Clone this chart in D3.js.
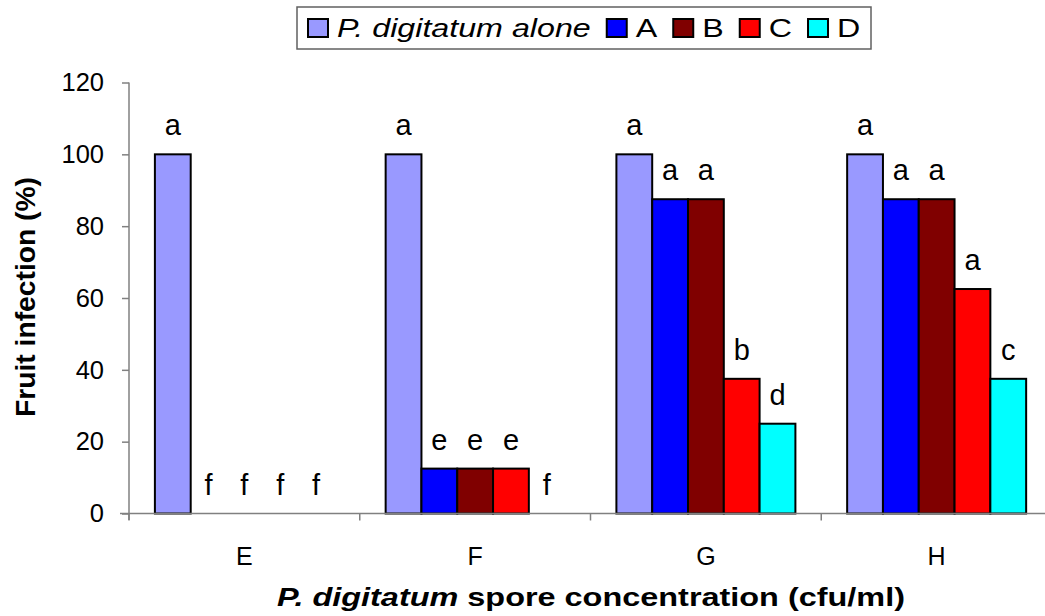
<!DOCTYPE html>
<html>
<head>
<meta charset="utf-8">
<script src="https://cdn.jsdelivr.net/npm/d3@7"></script>
<style>
  html, body { margin: 0; padding: 0; background: #fff; }
  svg { display: block; font-family: Arial, "Liberation Sans", sans-serif; }
</style>
</head>
<body>
<svg id="chart" width="1045" height="616"></svg>
<script>
// ---- data ----
const categories = ["E", "F", "G", "H"];
const seriesNames = ["P. digitatum alone", "A", "B", "C", "D"];
const seriesColors = ["#9999FF", "#0000FF", "#800000", "#FF0000", "#00FFFF"];
const valuesPD = [100, 100, 100, 100];
const valuesA  = [0, 12.5, 87.5, 87.5];
const valuesB  = [0, 12.5, 87.5, 87.5];
const valuesC  = [0, 12.5, 37.5, 62.5];
const valuesD  = [0, 0, 25, 37.5];
const lettersPD = ["a", "a", "a", "a"];
const lettersA  = ["f", "e", "a", "a"];
const lettersB  = ["f", "e", "a", "a"];
const lettersC  = ["f", "e", "b", "a"];
const lettersD  = ["f", "f", "d", "c"];
const yTicks = [0, 20, 40, 60, 80, 100, 120];

const seriesValues = [valuesPD, valuesA, valuesB, valuesC, valuesD];
const seriesLetters = [lettersPD, lettersA, lettersB, lettersC, lettersD];

const svg = d3.select("#chart");

const x0 = d3.scaleBand().domain(categories).range([129, 129 + 4 * 230.75]).paddingInner(0).paddingOuter(0);
const x1 = d3.scaleBand().domain(d3.range(seriesNames.length)).range([25.9, 204.9]).padding(0);
const y = d3.scaleLinear().domain([0, 120]).range([513.5, 82.5]);

// bars
const rows = [];
categories.forEach((c, ci) => {
  seriesNames.forEach((s, si) => {
    rows.push({ cat: c, si, v: seriesValues[si][ci], letter: seriesLetters[si][ci] });
  });
});

const g = svg.append("g");
g.selectAll("rect.bar")
  .data(rows.filter(d => d.v > 0))
  .join("rect")
  .attr("class", "bar")
  .attr("x", d => x0(d.cat) + x1(d.si))
  .attr("y", d => y(d.v))
  .attr("width", x1.bandwidth())
  .attr("height", d => y(0) - y(d.v))
  .attr("fill", d => seriesColors[d.si])
  .attr("stroke", "#000")
  .attr("stroke-width", 2);

// letters
g.selectAll("text.lbl")
  .data(rows)
  .join("text")
  .attr("class", "lbl")
  .attr("x", d => x0(d.cat) + x1(d.si) + x1.bandwidth() / 2)
  .attr("y", d => y(d.v) - 19)
  .attr("text-anchor", "middle")
  .attr("font-size", 29)
  .attr("fill", "#000")
  .text(d => d.letter);

// y axis
const yAxis = d3.axisLeft(y).tickValues(yTicks).tickSize(7).tickPadding(18).tickFormat(d3.format("d"));
const ya = svg.append("g").attr("transform", "translate(129,0)").call(yAxis);
ya.select(".domain").attr("stroke", "#808080").attr("stroke-width", 1.5).attr("d", "M0,82.5V520");
ya.selectAll(".tick line").attr("stroke", "#808080").attr("stroke-width", 1.5);
ya.selectAll(".tick text").attr("font-size", 25.5).attr("fill", "#000").attr("font-family", "Arial, 'Liberation Sans', sans-serif");

// x axis
const xAxis = d3.axisBottom(x0).tickSize(0).tickPadding(34);
const xa = svg.append("g").attr("transform", "translate(0,513.5)").call(xAxis);
xa.select(".domain").attr("stroke", "#808080").attr("stroke-width", 1.5).attr("d", "M120,0H1045");
xa.selectAll(".tick text").attr("font-size", 25).attr("fill", "#000").attr("font-family", "Arial, 'Liberation Sans', sans-serif");
// category boundary tick marks
xa.selectAll("line.sep")
  .data(categories)
  .join("line")
  .attr("class", "sep")
  .attr("x1", d => x0(d)).attr("x2", d => x0(d))
  .attr("y1", 0).attr("y2", 7)
  .attr("stroke", "#808080").attr("stroke-width", 1.5);

// axis titles
const xt = svg.append("text")
  .attr("x", 591).attr("y", 606)
  .attr("text-anchor", "middle")
  .attr("font-size", 26.5).attr("font-weight", "bold").attr("fill", "#000");
xt.append("tspan").attr("font-style", "italic").text("P. digitatum");
xt.append("tspan").text(" spore concentration (cfu/ml)");
xt.attr("textLength", 628).attr("lengthAdjust", "spacingAndGlyphs");

svg.append("text")
  .attr("transform", "translate(35,297) rotate(-90)")
  .attr("text-anchor", "middle")
  .attr("font-size", 27).attr("font-weight", "bold").attr("fill", "#000")
  .attr("textLength", 240).attr("lengthAdjust", "spacingAndGlyphs")
  .text("Fruit infection (%)");

// legend
const leg = svg.append("g");
leg.append("rect")
  .attr("x", 297).attr("y", 7).attr("width", 574).attr("height", 42)
  .attr("fill", "#fff").attr("stroke", "#606060").attr("stroke-width", 1.5);
const sx = 1.24;
let cx = 308;
seriesNames.forEach((name, i) => {
  leg.append("rect")
    .attr("x", cx).attr("y", 19).attr("width", 20).attr("height", 18)
    .attr("fill", seriesColors[i]).attr("stroke", "#000").attr("stroke-width", 2);
  const tx = cx + 29;
  const t = leg.append("text")
    .attr("transform", `translate(${tx},37) scale(${sx},1)`)
    .attr("font-size", 26).attr("fill", "#000")
    .attr("font-style", i === 0 ? "italic" : "normal")
    .text(name);
  const w = t.node().getComputedTextLength() * sx;
  cx = tx + w + 16;
});
</script>
</body>
</html>
